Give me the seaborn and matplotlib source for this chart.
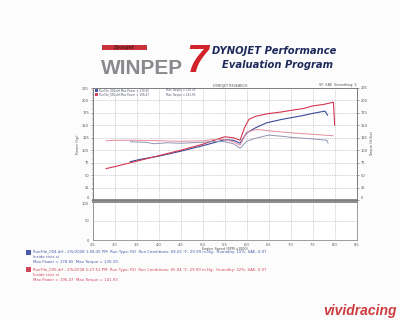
import matplotlib
matplotlib.use("Agg")
import numpy as np
import pandas as pd
import seaborn as sns
import matplotlib.pyplot as plt
from matplotlib.patches import Rectangle

sns.set_theme(style="white")
plt.rcParams['font.family'] = ['DejaVu Sans']

# ---------------- data ----------------
rpm_power_004 = [3.35, 3.6, 4.0, 4.5, 5.0, 5.5, 5.7, 5.85, 6.0, 6.2, 6.45, 6.8, 7.05, 7.3, 7.5, 7.78, 7.84]
hp_power_004 = [77, 82, 88, 98, 109, 121, 120, 114, 135, 145, 155, 162, 166, 170, 174, 178.6, 170]

rpm_power_005 = [2.8, 3.0, 3.5, 4.0, 4.5, 5.0, 5.5, 5.7, 5.85, 5.95, 6.05, 6.2, 6.45, 6.8, 7.0, 7.3, 7.5, 7.75, 7.97, 8.0]
hp_power_005 = [63, 67, 78, 89, 100, 112, 127, 125, 120, 145, 162, 168, 173, 177, 180, 184, 189, 192, 196.5, 150]

rpm_torque_004 = [3.35, 3.7, 3.9, 4.2, 4.5, 5.0, 5.3, 5.5, 5.7, 5.85, 6.0, 6.2, 6.5, 6.8, 7.0, 7.3, 7.6, 7.82, 7.85]
tq_torque_004 = [117, 116, 113, 115, 114, 116, 118, 117, 113, 104, 118, 124, 130.4, 128, 126, 124, 122, 120, 114]

rpm_torque_005 = [2.8, 3.0, 3.5, 4.0, 4.5, 5.0, 5.3, 5.5, 5.7, 5.85, 5.95, 6.05, 6.25, 6.5, 7.0, 7.5, 7.97]
tq_torque_005 = [119, 120, 120, 119, 118, 119, 122, 121, 117, 110, 128, 138, 141.9, 139, 135, 132, 129]

x_ticks = [2.5, 3.0, 3.5, 4.0, 4.5, 5.0, 5.5, 6.0, 6.5, 7.0, 7.5, 8.0, 8.5]
y_ticks = [0, 25, 50, 75, 100, 125, 150, 175, 200, 225]
y_ticks_lower = [0, 50, 100]

runs = ["RunFile_004.drf", "RunFile_005.drf"]
max_power = [178.65, 196.47]
max_torque = [130.39, 141.93]
run_dates = ["2/5/2008 1:58:35 PM", "2/5/2008 5:27:51 PM"]
run_cond = ["69.02 °F, 29.99 in-Hg,", "65.04 °F, 29.99 in-Hg,"]
humidity = ["15%", "32%"]

# ---------------- styles ----------------
BLUE = "#3a4b9c"
RED = "#d4364f"
BLUE_T = "#8f95b5"
RED_T = "#e58d9c"
BLUE_TXT = "#4a5aa8"
RED_TXT = "#d1455c"
GRID = "#b9b9b9"
AX_TXT = "#555555"

fig = plt.figure(figsize=(4, 3.2), dpi=100)
fig.patch.set_facecolor("#fcfcfc")

def fx(px):
    return px / 400.0

def fy(py):
    return 1 - py / 320.0

L, R = 92.7, 356.7
ax = fig.add_axes([fx(L), fy(200), fx(R) - fx(L), fy(88) - fy(200)])
ax2 = ax.twinx()
axb = fig.add_axes([fx(L), fy(240), fx(R) - fx(L), fy(202) - fy(240)])

for a in (ax, axb):
    a.set_facecolor("white")

# curves
sns.lineplot(x=rpm_torque_004, y=tq_torque_004, ax=ax2, color=BLUE_T, lw=0.7, estimator=None, sort=False)
sns.lineplot(x=rpm_torque_005, y=tq_torque_005, ax=ax2, color=RED_T, lw=0.7, estimator=None, sort=False)
sns.lineplot(x=rpm_power_004, y=hp_power_004, ax=ax, color=BLUE, lw=0.8, estimator=None, sort=False)
sns.lineplot(x=rpm_power_005, y=hp_power_005, ax=ax, color=RED, lw=0.8, estimator=None, sort=False)

for a in (ax, ax2, axb):
    a.set_xlim(2.5, 8.5)
ax.set_ylim(0, 225)
ax2.set_ylim(0, 225)
axb.set_ylim(0, 100)

ax.set_xticks(x_ticks)
ax.set_xticklabels([])
ax.set_yticks(y_ticks)
ax.set_yticklabels([str(v) for v in y_ticks])
ax2.set_yticks(y_ticks)
ax2.set_yticklabels([str(v) for v in y_ticks])
axb.set_xticks(x_ticks)
axb.set_xticklabels([f"{v:.1f}" for v in x_ticks])
axb.set_xticks(np.arange(2.5, 8.51, 0.1), minor=True)
axb.set_yticks(y_ticks_lower)
axb.set_yticklabels([str(v) for v in y_ticks_lower])
axb.set_yticks([], minor=True)
ax.set_yticks(np.arange(0, 226, 5), minor=True)
ax2.set_yticks(np.arange(0, 226, 5), minor=True)

for a in (ax, ax2, axb):
    a.tick_params(axis="both", which="major", labelsize=2.6, length=1.6, width=0.4,
                  pad=1, colors=AX_TXT, direction="out")
    a.tick_params(axis="both", which="minor", length=0.9, width=0.3, colors=AX_TXT)
ax.tick_params(axis="x", which="both", length=0)
axb.tick_params(axis="x", which="major", pad=0.6)

# keep the "0" of the top panel and "100" of the lower panel apart
ax.get_yticklabels()[0].set_verticalalignment("bottom")
ax2.get_yticklabels()[0].set_verticalalignment("bottom")
axb.get_yticklabels()[-1].set_verticalalignment("top")

ax.grid(True, color=GRID, lw=0.45, ls=(0, (2, 1.5)))
axb.grid(True, color=GRID, lw=0.45, ls=(0, (2, 1.5)))
ax2.grid(False)

for a in (ax, ax2, axb):
    for s in a.spines.values():
        s.set_color("#777777")
        s.set_linewidth(0.5)
ax.spines["bottom"].set_color("#8c8c8c")
ax.spines["bottom"].set_linewidth(1.4)
axb.spines["top"].set_color("#8c8c8c")
axb.spines["top"].set_linewidth(1.4)

ax.set_xlabel("")
ax.set_ylabel("Power (hp)", fontsize=2.6, color=AX_TXT, labelpad=1.5)
ax2.set_ylabel("Torque (ft-lbs)", fontsize=2.6, color=AX_TXT, labelpad=2, rotation=90)
axb.set_xlabel("Engine Speed (RPM x1000)", fontsize=2.4, color=AX_TXT, labelpad=0.2)
axb.set_ylabel("")

# in-plot legend
for i, (run, c) in enumerate(zip(runs, [BLUE_TXT, RED_TXT])):
    yy = 90.5 + i * 4.2
    fig.patches.append(Rectangle((fx(94.5), fy(yy + 1.5)), 3 / 400, 3 / 320,
                                 transform=fig.transFigure, facecolor=c, edgecolor="none"))
    fig.text(fx(99), fy(yy), f"{run} Max Power = {max_power[i]:.2f}", fontsize=2.0,
             color="#555a70", va="center", ha="left")
    fig.text(fx(166), fy(yy), f"Max Torque = {max_torque[i]:.2f}", fontsize=2.0,
             color="#555a70", va="center", ha="left")

fig.text(fx(230), fy(85.5), "DYNOJET RESEARCH", fontsize=2.4, color=AX_TXT, ha="center", va="center")
fig.text(fx(357), fy(85), "SF: SAE  Smoothing: 5", fontsize=2.4, color=AX_TXT, ha="right", va="center")

# header / logo
fig.patches.append(Rectangle((fx(102), fy(50)), 45 / 400, 5 / 320, transform=fig.transFigure,
                             facecolor="#c8333b", edgecolor="none"))
fig.text(fx(124), fy(47.5), "Dynojet", fontsize=3.4, color="#5a1a1a", ha="center", va="center",
         fontweight="bold", fontstyle="italic")
fig.text(fx(101), fy(68), "WINPEP", fontsize=15, color="#8a8a8e", ha="left", va="center",
         fontweight="bold", family=["Liberation Sans", "DejaVu Sans"])
fig.text(fx(197), fy(62), "7", fontsize=28, color="#d2232a", ha="center", va="center",
         fontweight="bold", fontstyle="italic", family=["Liberation Sans", "DejaVu Sans"])
fig.text(fx(274), fy(51), "DYNOJET Performance", fontsize=7.2, color="#1e2a5c", ha="center",
         va="center", fontweight="bold", fontstyle="italic")
fig.text(fx(278), fy(64.5), "Evaluation Program", fontsize=7.2, color="#1e2a5c", ha="center",
         va="center", fontweight="bold", fontstyle="italic")

# footer notes
for i, c in enumerate([BLUE_TXT, RED_TXT]):
    y0 = 252.5 + i * 17.3
    fig.patches.append(Rectangle((fx(26), fy(y0 + 2.3)), 5 / 400, 5 / 320,
                                 transform=fig.transFigure, facecolor=c, edgecolor="none"))
    fig.text(fx(33), fy(y0), f"{runs[i]} - {run_dates[i]}  Run Type: RO  Run Conditions: "
             f"{run_cond[i]}  Humidity: {humidity[i]}, SAE: 0.97",
             fontsize=2.75, color=c, ha="left", va="center")
    fig.text(fx(33), fy(y0 + 4.8), "Inside civic si", fontsize=2.75, color=c, ha="left", va="center")
    fig.text(fx(33), fy(y0 + 9.8), f"Max Power = {max_power[i]:.2f}  Max Torque = {max_torque[i]:.2f}",
             fontsize=2.75, color=c, ha="left", va="center")

fig.text(fx(360), fy(311), "vividracing", fontsize=10, color="#cc3b3f", ha="center", va="center",
         fontweight="bold", fontstyle="italic", family=["Liberation Sans", "DejaVu Sans"])

fig.savefig("out.png", dpi=100, facecolor=fig.get_facecolor())
